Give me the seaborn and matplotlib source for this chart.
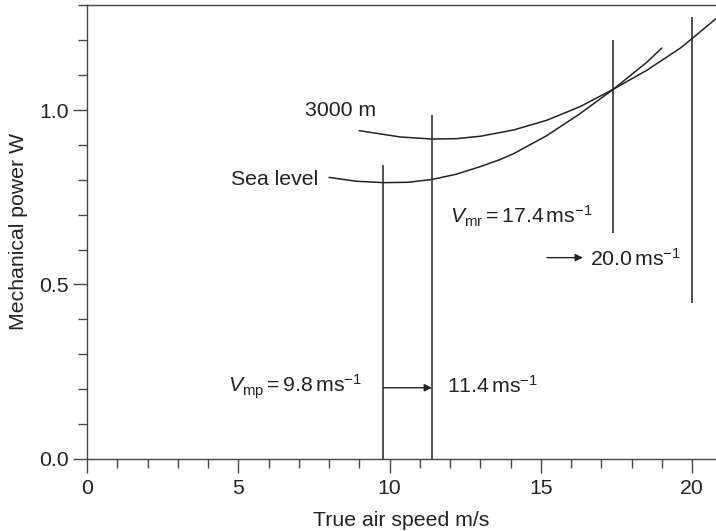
import matplotlib
matplotlib.use("Agg")
import matplotlib.pyplot as plt
import seaborn as sns
import pandas as pd
from matplotlib.ticker import MultipleLocator

# ---- data ----
sea_x = [8.0, 8.9, 9.8, 10.6, 11.4, 12.2, 13.0, 13.65, 14.1, 15.2, 16.3, 17.4, 18.5, 19.0]
sea_y = [0.807, 0.796, 0.792, 0.793, 0.801, 0.816, 0.838, 0.858, 0.875, 0.927, 0.990, 1.060, 1.137, 1.178]
alt_x = [9.0, 10.35, 11.4, 12.2, 13.0, 14.1, 15.2, 16.3, 17.4, 18.5, 19.6, 20.0, 20.8]
alt_y = [0.941, 0.923, 0.917, 0.918, 0.925, 0.943, 0.971, 1.010, 1.060, 1.114, 1.177, 1.205, 1.263]

vline_x = [9.8, 11.4, 17.4, 20.0]
vline_lo = [0.0, 0.0, 0.649, 0.448]
vline_hi = [0.842, 0.985, 1.201, 1.266]

x_ticks = [0, 5, 10, 15, 20]
y_ticks = [0.0, 0.5, 1.0]

sns.set_theme(style="ticks")
plt.rcParams["font.family"] = ["Liberation Sans", "DejaVu Sans"]
plt.rcParams["mathtext.fontset"] = "custom"
plt.rcParams["mathtext.rm"] = "Liberation Sans"
plt.rcParams["mathtext.it"] = "Liberation Sans:italic"

FS = 15.3

df = pd.concat([
    pd.DataFrame({"speed": sea_x, "power": sea_y, "curve": "Sea level"}),
    pd.DataFrame({"speed": alt_x, "power": alt_y, "curve": "3000 m"}),
])

fig = plt.figure(figsize=(7.16, 5.31), dpi=100)
ax = fig.add_axes([87 / 716, (531 - 458.9) / 531, 1 - 87 / 716, (458.9 - 5.1) / 531])

sns.lineplot(data=df, x="speed", y="power", units="curve", estimator=None,
             color="#222222", lw=1.1, ax=ax, legend=False, sort=True)

ax.vlines(vline_x, vline_lo, vline_hi, color="#222222", lw=1.1)

ax.set_xlim(0, 20.79)
ax.set_ylim(0, 1.301)
ax.set_xticks(x_ticks)
ax.set_yticks(y_ticks)
ax.set_xticklabels([str(v) for v in x_ticks])
ax.set_yticklabels([f"{v:.1f}" for v in y_ticks])
ax.xaxis.set_minor_locator(MultipleLocator(1))
ax.yaxis.set_minor_locator(MultipleLocator(0.1))
ax.tick_params(which="major", length=10, width=1, color="#444444", labelsize=FS,
               labelcolor="#222222", direction="out", pad=3)
ax.tick_params(axis="x", which="major", pad=4.5)
ax.tick_params(which="minor", length=6.5, width=1, color="#444444", direction="out")

for s in ["left", "bottom", "top"]:
    ax.spines[s].set_visible(True)
    ax.spines[s].set_color("#444444")
    ax.spines[s].set_linewidth(1.0)
ax.spines["right"].set_visible(False)

ax.set_xlabel("True air speed m/s", fontsize=FS, color="#222222", labelpad=9)
ax.set_ylabel("Mechanical power W", fontsize=FS, color="#222222", labelpad=8)

tk = dict(fontsize=FS, color="#222222", va="center", ha="left")
ax.text(7.21, 1.000, "3000 m", **tk)
ax.text(4.76, 0.802, "Sea level", **tk)
ax.text(12.0, 0.696, r"$V_{\mathrm{mr}}=17.4\,\mathrm{ms}^{-1}$", **tk)
ax.text(16.63, 0.574, r"$20.0\,\mathrm{ms}^{-1}$", **tk)
ax.text(4.66, 0.208, r"$V_{\mathrm{mp}}=9.8\,\mathrm{ms}^{-1}$", **tk)
ax.text(11.9, 0.208, r"$11.4\,\mathrm{ms}^{-1}$", **tk)

arrow = dict(arrowstyle="-|>", lw=1.0, color="#222222", mutation_scale=11,
             shrinkA=0, shrinkB=0)
ax.annotate("", xy=(11.4, 0.204), xytext=(9.8, 0.204), arrowprops=arrow)
ax.annotate("", xy=(16.39, 0.577), xytext=(15.2, 0.577), arrowprops=arrow)

fig.savefig("out.png", dpi=100)
